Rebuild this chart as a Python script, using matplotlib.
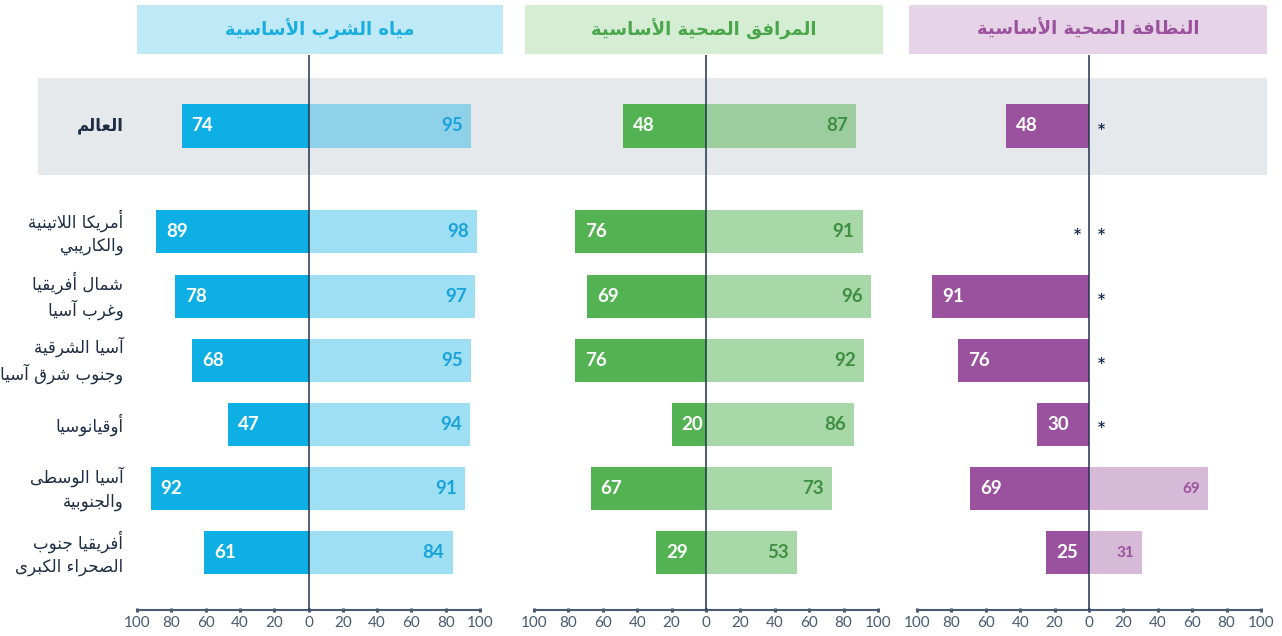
import matplotlib
matplotlib.use("Agg")
import matplotlib.pyplot as plt
from matplotlib.patches import Rectangle
from matplotlib.ticker import FuncFormatter

# --- data -------------------------------------------------------------
regions = [
    "العالم",
    "أمريكا اللاتينية\nوالكاريبي",
    "شمال أفريقيا\nوغرب آسيا",
    "آسيا الشرقية\nوجنوب شرق آسيا",
    "أوقيانوسيا",
    "آسيا الوسطى\nوالجنوبية",
    "أفريقيا جنوب\nالصحراء الكبرى",
]
panel_titles = ["مياه الشرب الأساسية", "المرافق الصحية الأساسية", "النظافة الصحية الأساسية"]

water_left = [74, 89, 78, 68, 47, 92, 61]
water_right = [95, 98, 97, 95, 94, 91, 84]
sanit_left = [48, 76, 69, 76, 20, 67, 29]
sanit_right = [87, 91, 96, 92, 86, 73, 53]
hyg_left = [48, None, 91, 76, 30, 69, 25]
hyg_right = [None, None, None, None, None, 69, 31]

ticks = [-100, -80, -60, -40, -20, 0, 20, 40, 60, 80, 100]

# --- minimal arabic shaping (matplotlib has no complex text layout) ---
ARABIC_FORMS = {
    '\u0621': (0xFE80, 0), '\u0622': (0xFE81, 1), '\u0623': (0xFE83, 1),
    '\u0625': (0xFE87, 1), '\u0627': (0xFE8D, 1), '\u0628': (0xFE8F, 2),
    '\u0629': (0xFE93, 1), '\u062A': (0xFE95, 2), '\u062B': (0xFE99, 2),
    '\u062C': (0xFE9D, 2), '\u062D': (0xFEA1, 2), '\u062E': (0xFEA5, 2),
    '\u062F': (0xFEA9, 1), '\u0630': (0xFEAB, 1), '\u0631': (0xFEAD, 1),
    '\u0632': (0xFEAF, 1), '\u0633': (0xFEB1, 2), '\u0634': (0xFEB5, 2),
    '\u0635': (0xFEB9, 2), '\u0636': (0xFEBD, 2), '\u0637': (0xFEC1, 2),
    '\u0638': (0xFEC5, 2), '\u0639': (0xFEC9, 2), '\u063A': (0xFECD, 2),
    '\u0641': (0xFED1, 2), '\u0642': (0xFED5, 2), '\u0643': (0xFED9, 2),
    '\u0644': (0xFEDD, 2), '\u0645': (0xFEE1, 2), '\u0646': (0xFEE5, 2),
    '\u0647': (0xFEE9, 2), '\u0648': (0xFEED, 1), '\u0649': (0xFEEF, 1),
    '\u064A': (0xFEF1, 2),
}
LAM_ALEF = {'\u0622': 0xFEF5, '\u0623': 0xFEF7, '\u0625': 0xFEF9, '\u0627': 0xFEFB}


def shape_line(line):
    units = []
    i = 0
    while i < len(line):
        c = line[i]
        if c == '\u0644' and i + 1 < len(line) and line[i + 1] in LAM_ALEF:
            units.append((LAM_ALEF[line[i + 1]], 1))
            i += 2
        elif c in ARABIC_FORMS:
            units.append(ARABIC_FORMS[c])
            i += 1
        else:
            units.append((c, -1))
            i += 1
    out = []
    for k, (base, jt) in enumerate(units):
        if jt < 0:
            out.append(base)
            continue
        if jt == 0:
            out.append(chr(base))
            continue
        prev_joins = k > 0 and units[k - 1][1] == 2
        next_joins = jt == 2 and k + 1 < len(units) and units[k + 1][1] > 0
        if prev_joins and next_joins:
            off = 3
        elif prev_joins:
            off = 1
        elif next_joins:
            off = 2
        else:
            off = 0
        out.append(chr(base + off))
    return ''.join(reversed(out))


def ar(text):
    return "\n".join(shape_line(l) for l in text.split("\n"))


# --- layout -----------------------------------------------------------
W, H = 1282, 636
fig = plt.figure(figsize=(W / 100, H / 100), dpi=100)
fig.patch.set_facecolor("white")


def fig_rect(x0, y0, x1, y1, color):
    r = Rectangle((x0 / W, 1 - y1 / H), (x1 - x0) / W, (y1 - y0) / H,
                  transform=fig.transFigure, facecolor=color, edgecolor="none", zorder=-5)
    fig.add_artist(r)


# grey band behind the world row
fig_rect(38, 78, 1267, 175, "#E6E9EC")

AR_FONT = "DejaVu Sans"
NUM_FONT = "Lato"
AXIS_COLOR = "#4A5A70"
ZERO_COLOR = "#1F3350"

panels = [
    dict(left=water_left, right=water_right, dark="#0EAFE5", alpha=0.4,
         label="#1AA3DA", head_bg="#BFE9F7", head_fg="#1AAEE0",
         ax_px=(137, 480), head_px=(137, 503)),
    dict(left=sanit_left, right=sanit_right, dark="#53B352", alpha=0.5,
         label="#3F8F42", head_bg="#D4EDD3", head_fg="#4AA64A",
         ax_px=(534, 878), head_px=(525, 883)),
    dict(left=hyg_left, right=hyg_right, dark="#9B529E", alpha=0.4,
         label="#9B529E", head_bg="#E6D3E7", head_fg="#9B529E",
         ax_px=(917, 1261), head_px=(909, 1267)),
]

# row positions (world row separated from regions)
ypos = [0] + [1.65 + i for i in range(6)]
top_px, bot_px = 55, 610
unit = 64.2
ylim_top = -(126 - top_px) / unit
ylim_bot = ylim_top + (bot_px - top_px) / unit
bar_h = 0.67

for pi, p in enumerate(panels):
    x0, x1 = p["ax_px"]
    ax = fig.add_axes([x0 / W, 1 - bot_px / H, (x1 - x0) / W, (bot_px - top_px) / H])
    ax.patch.set_alpha(0)
    ax.set_xlim(-100, 100)
    ax.set_ylim(ylim_bot, ylim_top)

    for y, lv, rv in zip(ypos, p["left"], p["right"]):
        if lv is not None:
            ax.barh(y, -lv, height=bar_h, color=p["dark"], zorder=2)
            ax.text(-lv + 5.8, y, str(lv), ha="left", va="center", color="white",
                    fontsize=13.5, fontweight="bold", family=NUM_FONT, zorder=4)
        if rv is not None:
            ax.barh(y, rv, height=bar_h, color=p["dark"], alpha=p["alpha"], zorder=2)
            ax.text(rv - 4.7, y, str(rv), ha="right", va="center", color=p["label"],
                    fontsize=13.5 if pi < 2 else 11, fontweight="bold", family=NUM_FONT, zorder=4)
        # missing estimates are marked with an asterisk
        if pi == 2:
            if lv is None:
                ax.text(-6.5, y + 0.04, "*", ha="center", va="center", color=ZERO_COLOR,
                        fontsize=10, fontweight="bold")
            if rv is None:
                ax.text(7, y + 0.04, "*", ha="center", va="center", color=ZERO_COLOR,
                        fontsize=10, fontweight="bold")

    ax.axvline(0, color=ZERO_COLOR, lw=1.1, zorder=3)

    for s in ["top", "left", "right"]:
        ax.spines[s].set_visible(False)
    ax.spines["bottom"].set_color(AXIS_COLOR)
    ax.spines["bottom"].set_linewidth(1.5)
    ax.set_yticks([])
    ax.set_xticks(ticks)
    ax.xaxis.set_major_formatter(FuncFormatter(lambda v, _: f"{abs(v):.0f}"))
    ax.tick_params(axis="x", direction="inout", length=3, width=2.2, color=AXIS_COLOR,
                   labelcolor=AXIS_COLOR, labelsize=11, pad=3)
    for lab in ax.get_xticklabels():
        lab.set_family(NUM_FONT)

    # header box
    hx0, hx1 = p["head_px"]
    fig_rect(hx0, 5, hx1, 54, p["head_bg"])
    fig.text((hx0 + hx1) / 2 / W, 1 - 29 / H, ar(panel_titles[pi]), ha="center", va="center",
             color=p["head_fg"], fontsize=13, fontweight="bold", family=AR_FONT)

    if pi == 0:
        for y, name in zip(ypos, regions):
            ax.text(-108, y, ar(name), ha="right", va="center", multialignment="right",
                    fontsize=12, color="#1F2D44", family=AR_FONT,
                    fontweight="bold" if y == 0 else "normal", linespacing=1.35)

fig.savefig("out.png", dpi=100)
